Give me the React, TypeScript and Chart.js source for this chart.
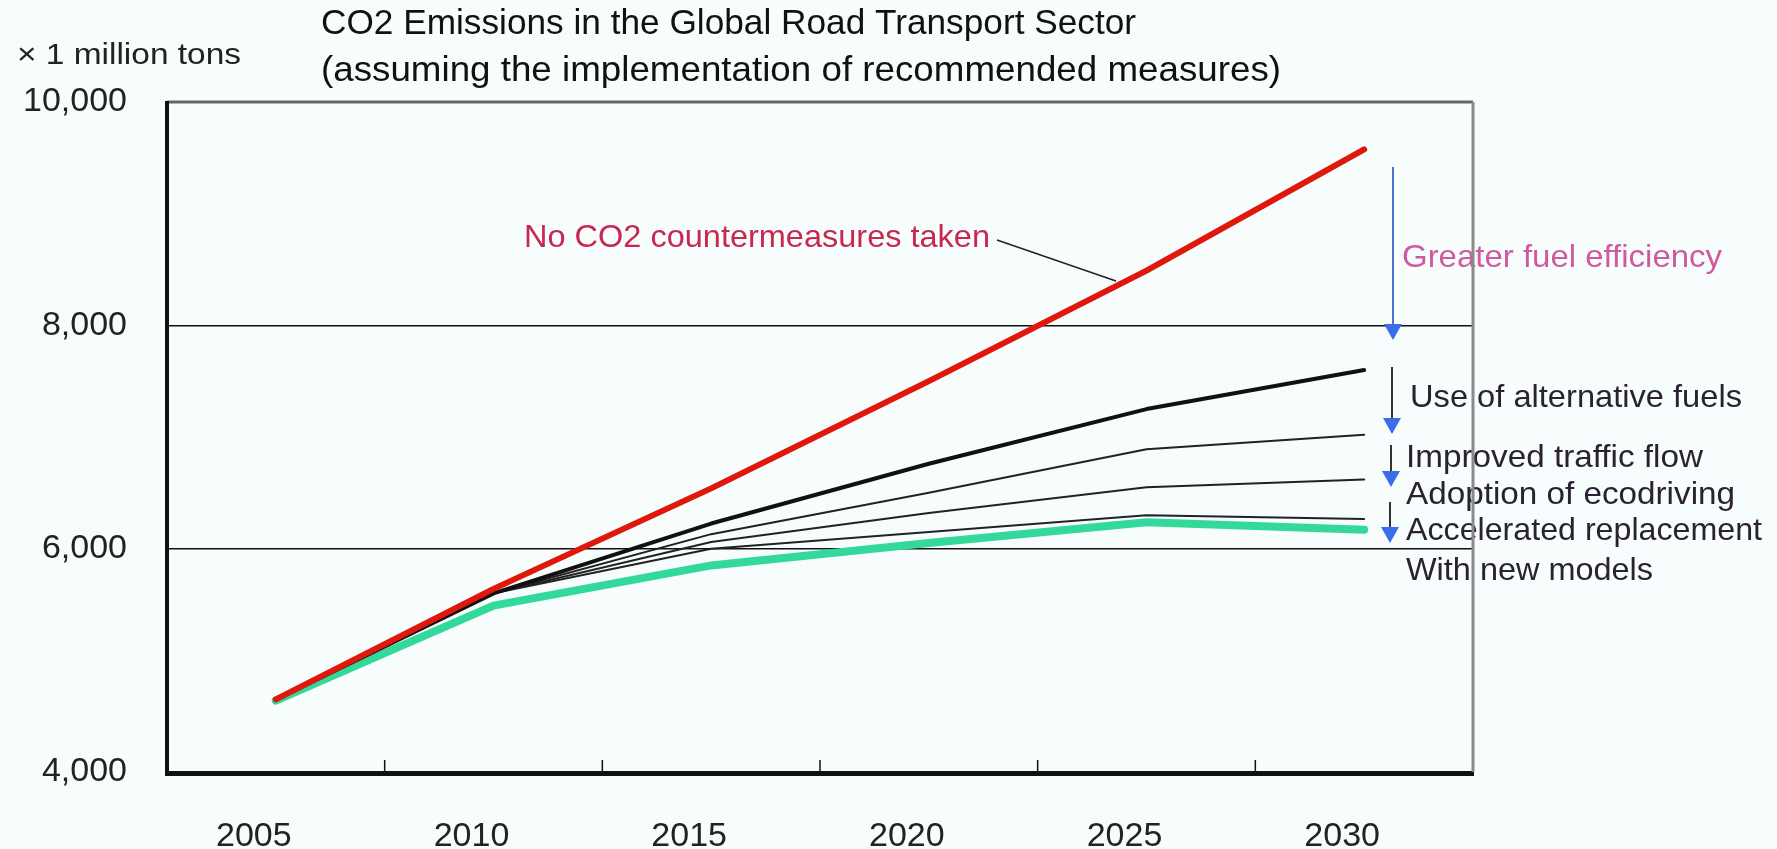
import React, { useEffect, useRef } from 'react';
import { Chart, registerables } from 'chart.js';

Chart.register(...registerables);

// ---- data ----
const years = ['2005', '2010', '2015', '2020', '2025', '2030'];
const noMeasures = [4650, 5640, 6540, 7500, 8490, 9575];
const alternativeFuels = [4650, 5600, 6225, 6760, 7250, 7600];
const trafficFlow = [4650, 5600, 6130, 6500, 6890, 7020];
const ecodriving = [4650, 5600, 6060, 6320, 6550, 6620];
const replacement = [4650, 5600, 6000, 6150, 6300, 6265];
const newModels = [4640, 5490, 5850, 6050, 6236, 6170];
const yTicks = [4000, 6000, 8000, 10000];

const titleLines = [
  'CO2 Emissions in the Global Road Transport Sector',
  '(assuming the implementation of recommended measures)',
];
const unitLabel = '\u00d7 1 million tons';
const noMeasuresLabel = 'No CO2 countermeasures taken';
const measureLabels = [
  'Greater fuel efficiency',
  'Use of alternative fuels',
  'Improved traffic flow',
  'Adoption of ecodriving',
  'Accelerated replacement',
  'With new models',
];

// ---- styling / layout ----
const W = 1777;
const H = 849;
const FONT = "'Liberation Sans', Arial, sans-serif";
const BG = '#F7FCFD';

type TextItem = { text: string; x: number; y: number; w: number; size: number; color: string };

const texts: TextItem[] = [
  { text: titleLines[0], x: 321, y: 24, w: 815, size: 35, color: '#111' },
  { text: titleLines[1], x: 321, y: 71, w: 960, size: 35, color: '#111' },
  { text: unitLabel, x: 17, y: 56, w: 224, size: 29, color: '#222' },
  { text: noMeasuresLabel, x: 524, y: 238, w: 466, size: 32, color: '#C8284F' },
  { text: measureLabels[0], x: 1402, y: 258, w: 320, size: 32, color: '#D05AA0' },
  { text: measureLabels[1], x: 1410, y: 398, w: 332, size: 32, color: '#2a2230' },
  { text: measureLabels[2], x: 1406, y: 458, w: 297, size: 32, color: '#2a2230' },
  { text: measureLabels[3], x: 1406, y: 495, w: 329, size: 32, color: '#2a2230' },
  { text: measureLabels[4], x: 1406, y: 531, w: 356, size: 32, color: '#2a2230' },
  { text: measureLabels[5], x: 1406, y: 571, w: 247, size: 32, color: '#2a2230' },
];

const arrows = [
  { x: 1393, y0: 167, y1: 340, shaft: '#5070d0' },
  { x: 1392, y0: 367, y1: 434, shaft: '#333' },
  { x: 1391, y0: 445, y1: 487, shaft: '#333' },
  { x: 1390, y0: 502, y1: 543, shaft: '#333' },
];

function drawFit(ctx: CanvasRenderingContext2D, t: TextItem) {
  ctx.save();
  ctx.font = `${t.size}px ${FONT}`;
  const m = ctx.measureText(t.text).width;
  ctx.translate(t.x, t.y);
  ctx.scale(t.w / m, 1);
  ctx.fillStyle = t.color;
  ctx.textBaseline = 'middle';
  ctx.textAlign = 'left';
  ctx.fillText(t.text, 0, 0);
  ctx.restore();
}

const overlay = {
  id: 'overlay',
  beforeDraw(chart: any) {
    const ctx: CanvasRenderingContext2D = chart.ctx;
    ctx.save();
    ctx.fillStyle = BG;
    ctx.fillRect(0, 0, chart.width, chart.height);
    ctx.restore();
    texts.forEach((t) => drawFit(ctx, t));
    // leader line for "no measures"
    ctx.save();
    ctx.strokeStyle = '#222';
    ctx.lineWidth = 1.5;
    ctx.beginPath();
    ctx.moveTo(997, 240);
    ctx.lineTo(1116, 281);
    ctx.stroke();
    ctx.restore();
  },
  afterDraw(chart: any) {
    const ctx: CanvasRenderingContext2D = chart.ctx;
    const { left, right, top, bottom } = chart.chartArea;
    const xs = chart.scales.x;
    ctx.save();
    // tick marks between categories, pointing inward
    ctx.strokeStyle = '#111';
    ctx.lineWidth = 1.5;
    for (let i = 1; i < years.length; i++) {
      const px = (xs.getPixelForValue(i - 1) + xs.getPixelForValue(i)) / 2;
      ctx.beginPath();
      ctx.moveTo(px, bottom);
      ctx.lineTo(px, bottom - 12);
      ctx.stroke();
    }
    // frame
    ctx.lineWidth = 3;
    ctx.strokeStyle = '#666';
    ctx.beginPath();
    ctx.moveTo(left, top);
    ctx.lineTo(right, top);
    ctx.stroke();
    ctx.strokeStyle = '#8a8a8a';
    ctx.beginPath();
    ctx.moveTo(right, top);
    ctx.lineTo(right, bottom);
    ctx.stroke();
    ctx.lineWidth = 4;
    ctx.strokeStyle = '#111';
    ctx.beginPath();
    ctx.moveTo(left, top - 1);
    ctx.lineTo(left, bottom + 2);
    ctx.lineTo(right + 1, bottom + 2);
    ctx.stroke();
    // arrows
    arrows.forEach((a) => {
      ctx.strokeStyle = a.shaft;
      ctx.lineWidth = 2;
      ctx.beginPath();
      ctx.moveTo(a.x, a.y0);
      ctx.lineTo(a.x, a.y1 - 14);
      ctx.stroke();
      ctx.fillStyle = '#3A6DE8';
      ctx.beginPath();
      ctx.moveTo(a.x - 9, a.y1 - 16);
      ctx.lineTo(a.x + 9, a.y1 - 16);
      ctx.lineTo(a.x, a.y1);
      ctx.closePath();
      ctx.fill();
    });
    ctx.restore();
  },
};

function line(data: number[], color: string, width: number) {
  return {
    data,
    borderColor: color,
    backgroundColor: color,
    borderWidth: width,
    pointRadius: 0,
    tension: 0,
    fill: false,
    borderCapStyle: 'round' as const,
    borderJoinStyle: 'round' as const,
  };
}

export default function App() {
  const ref = useRef<HTMLCanvasElement | null>(null);
  useEffect(() => {
    if (!ref.current) return;
    const chart = new Chart(ref.current, {
      type: 'line',
      data: {
        labels: years,
        datasets: [
          line(noMeasures, '#E0180C', 6),
          line(alternativeFuels, '#111111', 4),
          line(trafficFlow, '#222222', 2),
          line(ecodriving, '#222222', 2),
          line(replacement, '#222222', 2),
          line(newModels, '#33D99A', 8),
        ],
      },
      options: {
        responsive: false,
        maintainAspectRatio: false,
        animation: false,
        devicePixelRatio: 1,
        layout: { padding: { top: 102, right: 304, left: 0, bottom: 0 } },
        plugins: { legend: { display: false }, tooltip: { enabled: false }, title: { display: false } },
        scales: {
          x: {
            type: 'category',
            offset: true,
            grid: { display: false, drawTicks: false },
            border: { display: false },
            ticks: {
              color: '#222',
              font: { family: FONT, size: 34 },
              padding: 44,
              labelOffset: -22,
              maxRotation: 0,
              autoSkip: false,
            },
            afterFit: (s: any) => {
              s.height = H - 772;
            },
          },
          y: {
            min: 4000,
            max: 10000,
            grid: { color: '#111', lineWidth: 1.5, drawTicks: false },
            border: { display: false },
            afterBuildTicks: (s: any) => {
              s.ticks = yTicks.map((v) => ({ value: v }));
            },
            ticks: {
              color: '#222',
              font: { family: FONT, size: 34 },
              padding: 40,
              callback: (v: any) => Number(v).toLocaleString('en-US'),
            },
            afterFit: (s: any) => {
              s.width = 167;
            },
          },
        },
      },
      plugins: [overlay],
    });
    return () => chart.destroy();
  }, []);
  return (
    <div style={{ position: 'fixed', left: 0, top: 0, width: W, height: H, background: BG }}>
      <canvas ref={ref} width={W} height={H} style={{ width: W, height: H, display: 'block' }} />
    </div>
  );
}
